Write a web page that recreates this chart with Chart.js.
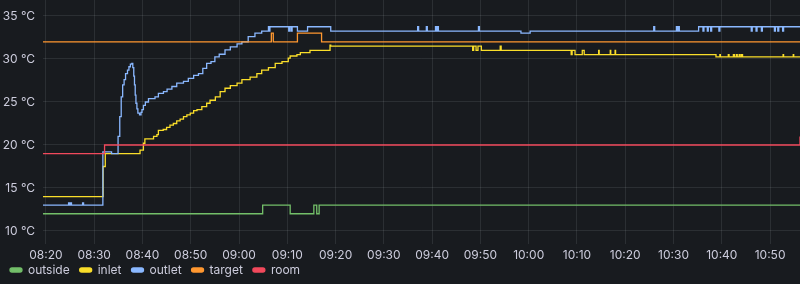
<!DOCTYPE html>
<html>
<head>
<meta charset="utf-8">
<script src="https://cdn.jsdelivr.net/npm/chart.js@4.4.1/dist/chart.umd.min.js"></script>
<style>
    html, body { margin: 0; padding: 0; background: #181b1f; }
    #panel { width: 800px; height: 284px; }
</style>
</head>
<body>
<div id="panel"><canvas id="chartTemps" width="800" height="284"></canvas></div>
<script>
'use strict';

// ── Datos (tiempo en minutos desde las 08:00, valor en °C) ────
const outsideTimes  = [19.4, 64.8, 64.9, 70.4, 70.6, 75.3, 75.5, 75.8, 76.1, 76.4, 76.6, 176.2];
const outsideValues = [12,   12,   13,   13,   12,   12,   13,   13,   12,   12,   13,   13];

const inletTimes = [19.4, 31.6, 31.85, 32.3, 39.1, 39.5, 40.2, 40.5, 42.0, 42.3, 43.0, 43.3, 44.3, 45.0,
    45.7, 46.4, 47.1, 47.8, 48.5, 49.2, 49.9, 50.6, 51.3, 52.3, 53.3, 54.0, 55.1, 56.1, 57.1, 58.2,
    59.6, 60.6, 62.3, 63.7, 64.7, 66.1, 67.5, 68.9, 70.2, 70.6, 72.0, 72.7, 74.7, 78.7, 78.85, 79.0,
    108.2, 108.4, 108.6, 108.9, 109.1, 109.5, 109.9, 110.2, 113.9, 114.1, 114.3,
    128.6, 128.8, 129.0, 129.4, 129.6, 131.0, 131.1, 131.3, 131.5, 134.4, 134.5, 134.6,
    136.8, 136.9, 137.0, 137.8, 137.9, 138.0, 158.6, 158.8, 159.5, 159.6, 159.7, 161.2, 161.35, 161.5,
    162.4, 162.6, 163.0, 163.2, 163.6, 163.8, 164.1, 164.3, 172.6, 172.7, 172.8, 174.7, 174.8, 174.9, 176.2];
const inletValues = [14, 14, 17.5, 19, 19, 19.4, 20.2, 20.7, 20.7, 21.0, 21.2, 21.7, 21.8, 22.05,
    22.3, 22.5, 22.8, 23.0, 23.3, 23.5, 23.7, 24.0, 24.1, 24.45, 24.85, 25.2, 25.6, 26.2, 26.6, 26.9,
    27.2, 27.6, 27.9, 28.3, 28.7, 29.0, 29.5, 29.7, 30.1, 30.35, 30.5, 30.75, 31.0, 31.0, 31.6, 31.5,
    31.5, 31.0, 31.5, 31.5, 31.0, 31.5, 31.5, 31.0, 31.0, 31.5, 31.0,
    31.0, 30.5, 31.0, 31.0, 30.5, 30.5, 31.0, 31.0, 30.5, 30.5, 31.0, 30.5,
    30.5, 31.0, 30.5, 30.5, 31.0, 30.5, 30.5, 30.25, 30.25, 30.5, 30.25, 30.25, 30.5, 30.25,
    30.5, 30.25, 30.5, 30.25, 30.5, 30.25, 30.5, 30.25, 30.25, 30.5, 30.25, 30.25, 30.5, 30.25, 30.25];

const outletTimes = [19.4, 24.7, 24.9, 25.1, 25.3, 27.6, 27.8, 31.8, 33.6, 34.95, 35.3, 35.6, 35.9,
    36.2, 36.5, 36.9, 37.2, 37.5, 37.8, 38.0, 38.2, 38.35, 38.5, 38.65, 38.85, 39.05, 39.4, 39.7, 39.9,
    40.2, 40.6, 41.25, 42.6, 43.3, 44.35, 45.1, 46.1, 47.1, 48.5, 49.5, 50.6, 51.6, 52.5, 53.3, 54.2,
    55.0, 55.9, 57.1, 58.2, 59.6, 60.6, 61.9, 63.3, 64.7, 66.1, 66.2, 66.4, 70.3, 70.5, 70.8, 71.0,
    72.1, 74.2, 79.0, 97.0, 97.2, 98.8, 99.0, 100.7, 100.9, 101.1, 101.3, 109.6, 109.8, 118.4, 120.3,
    145.9, 146.1, 150.6, 150.8, 151.0, 151.2, 155.2, 156.1, 156.3, 157.0, 157.2, 157.7, 157.9,
    159.4, 159.6, 166.1, 166.3, 167.1, 167.3, 168.2, 168.4, 170.9, 171.1, 171.6, 171.8, 172.6, 172.8, 176.2];
const outletValues = [13, 13.25, 13, 13.25, 13, 13.25, 13, 19.2, 19.0, 21.0, 23.3, 25.6, 27.0,
    27.6, 28.3, 28.7, 29.1, 29.4, 29.5, 29.0, 28.0, 27.0, 25.8, 24.85, 24.2, 23.7, 23.5, 23.8, 24.1,
    24.6, 25.0, 25.4, 25.6, 26.0, 26.2, 26.5, 26.8, 27.2, 27.4, 27.75, 28.1, 28.3, 28.9, 29.5, 29.7,
    30.25, 30.55, 31.05, 31.4, 31.75, 32.0, 32.6, 33.0, 33.25, 33.75, 33.25, 33.75, 33.25, 33.75, 33.25, 33.75,
    33.25, 33.75, 33.25, 33.75, 33.25, 33.75, 33.25, 33.75, 33.25, 33.75, 33.25, 33.75, 33.25, 33.0, 33.25,
    33.75, 33.25, 33.75, 33.25, 33.75, 33.25, 33.75, 33.25, 33.75, 33.25, 33.75, 33.25, 33.75,
    33.25, 33.75, 33.25, 33.75, 33.25, 33.75, 33.25, 33.75, 33.25, 33.75, 33.25, 33.75, 33.25, 33.75, 33.75];

const targetTimes  = [19.4, 66.5, 66.7, 66.9, 67.1, 71.9, 72.1, 76.9, 77.1, 176.2];
const targetValues = [32,   32,   33,   33,   32,   32,   33,   33,   32,   32];

const roomTimes  = [19.4, 32.0, 32.15, 176.0, 176.2];
const roomValues = [19,   19,   20,    20,    21];

const xTicks = [20, 30, 40, 50, 60, 70, 80, 90, 100, 110, 120, 130, 140, 150, 160, 170];
const yTicks = [10, 15, 20, 25, 30, 35];

const TEXTO = 'rgb(204, 204, 220)';
const GRILLA = 'rgba(240, 250, 255, 0.09)';

function aPuntos(tiempos, valores) {
    return tiempos.map((t, i) => ({ x: t, y: valores[i] }));
}

function formatoHora(min) {
    const h = 8 + Math.floor(min / 60);
    const m = Math.round(min % 60);
    return `${String(h).padStart(2, '0')}:${String(m).padStart(2, '0')}`;
}

// Cada punto marca el instante en que la serie salta al nuevo valor
function serie(nombre, tiempos, valores, color, orden) {
    return {
        label: nombre,
        data: aPuntos(tiempos, valores),
        borderColor: color,
        backgroundColor: color,
        borderWidth: 1.3,
        pointRadius: 0,
        stepped: 'before',
        order: orden
    };
}

// Fondo del panel estilo Grafana
const fondoPanel = {
    id: 'fondoPanel',
    beforeDraw(chart) {
        const ctx = chart.ctx;
        ctx.save();
        ctx.fillStyle = '#181b1f';
        ctx.fillRect(0, 0, chart.width, chart.height);
        ctx.restore();
    }
};

// El eje X es bajo (la leyenda va pegada); se amplía su zona de recorte
// para que las horas no queden cortadas por la mitad
const recorteEjeX = {
    id: 'recorteEjeX',
    afterLayout(chart) {
        const x = chart.scales.x;
        x.bottom = x.top + 24;
    }
};

Chart.defaults.font.family = 'Inter, "Noto Sans", sans-serif';
Chart.defaults.font.size = 12;
Chart.defaults.color = TEXTO;

new Chart(document.getElementById('chartTemps').getContext('2d'), {
    type: 'line',
    data: {
        datasets: [
            serie('outside', outsideTimes, outsideValues, '#73BF69', 5),
            serie('inlet', inletTimes, inletValues, '#FADE2A', 4),
            serie('outlet', outletTimes, outletValues, '#8AB8FF', 3),
            serie('target', targetTimes, targetValues, '#FF9830', 2),
            serie('room', roomTimes, roomValues, '#F2495C', 1)
        ]
    },
    options: {
        responsive: false,
        animation: false,
        layout: { padding: 0, autoPadding: false },
        scales: {
            x: {
                type: 'linear',
                min: 19.4,
                max: 176.2,
                afterBuildTicks: (scale) => { scale.ticks = xTicks.map(v => ({ value: v })); },
                afterFit: (scale) => {
                    scale.height = 14;
                    scale.paddingLeft = 0;
                    scale.paddingRight = 0;
                },
                ticks: {
                    autoSkip: false,
                    maxRotation: 0,
                    padding: 4,
                    callback: (v) => formatoHora(v)
                },
                grid: { color: GRILLA, drawTicks: true, tickLength: 4 },
                border: { display: false }
            },
            y: {
                min: 8.95,
                max: 36.86,
                afterBuildTicks: (scale) => { scale.ticks = yTicks.map(v => ({ value: v })); },
                afterFit: (scale) => {
                    scale.width = 43;
                    scale.paddingTop = 0;
                    scale.paddingBottom = 0;
                },
                ticks: {
                    padding: 8,
                    callback: (v) => `${v} °C`
                },
                grid: { color: GRILLA, drawTicks: false },
                border: { display: false }
            }
        },
        plugins: {
            legend: {
                position: 'bottom',
                align: 'start',
                maxHeight: 30,
                labels: {
                    boxWidth: 12,
                    boxHeight: 4,
                    useBorderRadius: true,
                    borderRadius: 2,
                    padding: 10,
                    color: TEXTO,
                    sort: (a, b) => a.datasetIndex - b.datasetIndex
                }
            },
            tooltip: { enabled: false }
        }
    },
    plugins: [fondoPanel, recorteEjeX]
});
</script>
</body>
</html>
